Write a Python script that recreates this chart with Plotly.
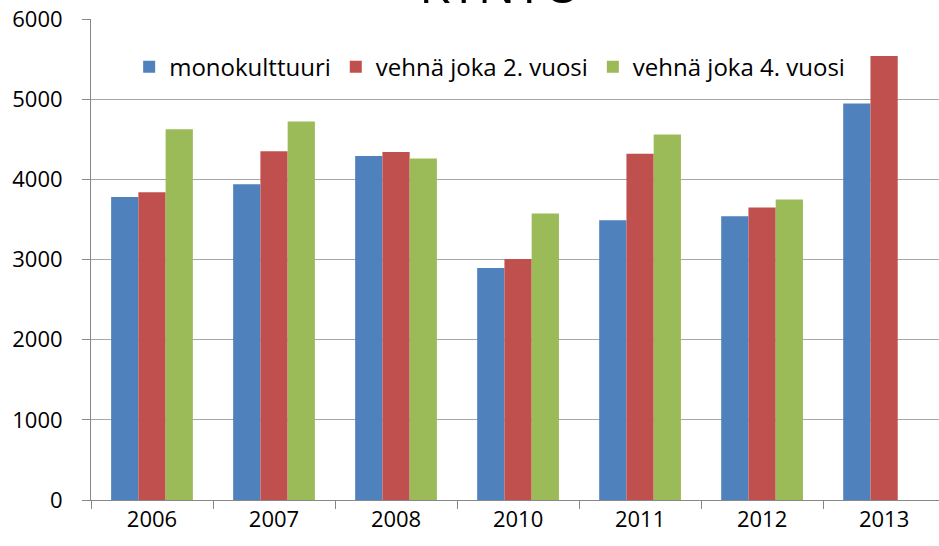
import plotly.graph_objects as go

years = ["2006", "2007", "2008", "2010", "2011", "2012", "2013"]
monokulttuuri = [3780, 3940, 4290, 2895, 3490, 3540, 4945]
vehna_2 = [3840, 4350, 4340, 3005, 4320, 3650, 5540]
vehna_4 = [4625, 4720, 4260, 3575, 4560, 3750, None]

series_names = ["monokulttuuri", "vehnä joka 2. vuosi", "vehnä joka 4. vuosi"]
colors = ["#4F81BD", "#C0504D", "#9BBB59"]
title_text = "KYNTÖ"

font_family = "Open Sans, Noto Sans, sans-serif"

fig = go.Figure()
for name, vals, col in zip(series_names, [monokulttuuri, vehna_2, vehna_4], colors):
    fig.add_trace(go.Bar(x=years, y=vals, name=name, marker=dict(color=col, line=dict(width=0))))

fig.update_layout(
    width=939, height=546,
    margin=dict(l=91, r=0, t=19, b=46, autoexpand=False),
    paper_bgcolor="white", plot_bgcolor="white",
    barmode="group", bargap=0.33, bargroupgap=0,
    font=dict(family=font_family, size=22, color="#000000"),
    title=dict(text=title_text, x=0.483, xanchor="center", xref="paper",
               y=1 - 3/546, yanchor="bottom", yref="container",
               font=dict(size=50, color="#000000", family=font_family)),
    showlegend=True,
    legend=dict(orientation="h", x=0.045, y=0.90, xanchor="left", yanchor="middle",
                bgcolor="rgba(0,0,0,0)", font=dict(size=24), itemwidth=30,
                traceorder="normal"),
    xaxis=dict(type="category", range=[-0.5, 6.45], showline=True, linecolor="#888888",
               linewidth=1, ticks="outside", tickson="boundaries", ticklen=8,
               tickcolor="#888888", showgrid=False, tickfont=dict(size=22),
               automargin=False),
    yaxis=dict(range=[0, 6000], dtick=1000, showline=True, linecolor="#888888",
               linewidth=1, ticks="outside", ticklen=8, tickcolor="#888888",
               showgrid=True, gridcolor="#a6a6a6", gridwidth=1, zeroline=False,
               tickfont=dict(size=22), ticklabelstandoff=15, automargin=False),
)

fig.write_html("out.html", config={"displayModeBar": False},
               post_script="document.body.style.margin='0';")
